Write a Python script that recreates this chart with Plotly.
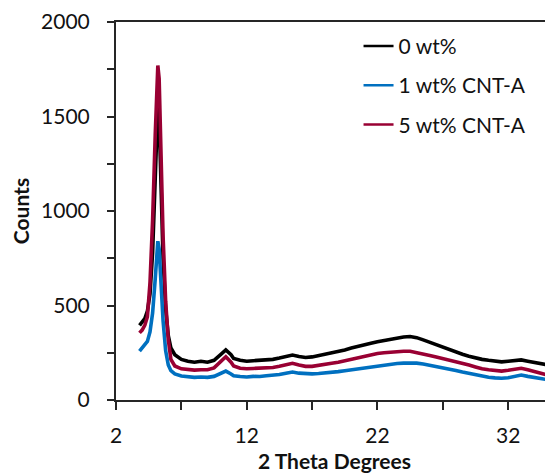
import plotly.graph_objects as go

two_theta = [3.8, 4.0, 4.2, 4.4, 4.6, 4.8, 5.0, 5.1, 5.2, 5.3, 5.4, 5.6, 5.8, 6.0, 6.2, 6.5,
             7.0, 7.5, 8.0, 8.5, 9.0, 9.5, 10.0, 10.4, 10.8, 11.0, 11.5, 12.0, 12.5, 13.0,
             13.5, 14.0, 14.5, 15.0, 15.5, 16.0, 16.5, 17.0, 17.5, 18.0, 18.5, 19.0, 19.5,
             20.0, 20.5, 21.0, 21.5, 22.0, 22.5, 23.0, 23.5, 24.0, 24.5, 25.0, 25.5, 26.0,
             26.5, 27.0, 27.5, 28.0, 28.5, 29.0, 29.5, 30.0, 30.5, 31.0, 31.5, 32.0, 32.5,
             33.0, 33.5, 34.0, 34.5, 35.0, 35.5]

counts_0wt = [395, 410, 430, 470, 560, 780, 1150, 1400, 1560, 1500, 1200, 750, 480, 340, 275, 240,
              215, 205, 200, 205, 200, 210, 240, 265, 240, 220, 210, 205, 208, 210,
              212, 215, 222, 232, 238, 230, 225, 228, 235, 240, 248, 255, 265,
              275, 285, 292, 300, 308, 315, 322, 328, 333, 336, 330, 318, 305,
              290, 278, 268, 255, 242, 232, 222, 215, 210, 205, 202, 205, 210,
              212, 205, 198, 192, 186, 182]

counts_1wt = [258, 275, 290, 310, 360, 460, 640, 760, 840, 800, 650, 420, 260, 185, 155, 138,
              127, 122, 120, 122, 120, 125, 140, 153, 138, 128, 124, 122, 125, 124,
              128, 130, 135, 142, 148, 142, 138, 138, 140, 142, 145, 150, 155,
              160, 166, 172, 176, 180, 185, 190, 193, 195, 196, 195, 190, 184,
              177, 170, 162, 156, 148, 140, 132, 124, 120, 117, 115, 118, 126,
              132, 125, 118, 112, 108, 105]

counts_5wt = [355, 370, 395, 440, 620, 950, 1400, 1650, 1770, 1700, 1380, 870, 520, 320, 215, 180,
              165, 160, 158, 160, 160, 170, 205, 229, 200, 180, 168, 165, 167, 168,
              170, 172, 178, 188, 194, 185, 178, 178, 182, 188, 194, 200, 208,
              218, 226, 234, 240, 246, 250, 254, 257, 258, 258, 252, 244, 236,
              228, 220, 212, 204, 195, 185, 175, 165, 160, 156, 153, 157, 164,
              168, 160, 150, 140, 132, 127]

series_names = ["0 wt%", "1 wt% CNT-A", "5 wt% CNT-A"]
series_colors = ["#000000", "#0070C0", "#990033"]
series_values = [counts_0wt, counts_1wt, counts_5wt]

FONT = "Lato"
AXIS_COLOR = "#262626"

fig = go.Figure()

for name, color, vals in zip(series_names, series_colors, series_values):
    fig.add_trace(go.Scatter(x=two_theta, y=vals, mode="lines", name=name,
                             line=dict(color=color, width=3.6), showlegend=False,
                             legendgroup=name))
for name, color in zip(series_names, series_colors):
    fig.add_trace(go.Scatter(x=[None], y=[None], mode="lines", name=name,
                             line=dict(color=color, width=2.6), legendgroup=name,
                             showlegend=True))

# page body has an 8px margin; the figure is sized to end at the window edge
fig.update_layout(
    width=545, height=465,
    margin=dict(l=108, r=0, t=14, b=73, autoexpand=False),
    paper_bgcolor="white", plot_bgcolor="white",
    font=dict(family=FONT, size=21, color="#111111"),
    showlegend=True,
    legend=dict(x=0.555, y=0.99, xanchor="left", yanchor="top",
                bgcolor="rgba(0,0,0,0)", font=dict(size=21, family=FONT),
                tracegroupgap=9, itemwidth=30),
    xaxis=dict(range=[2, 35.43], tick0=2, dtick=10, showgrid=False, zeroline=False,
               automargin=False,
               showline=True, linecolor=AXIS_COLOR, linewidth=2, mirror=True,
               ticks="outside", ticklen=8, tickwidth=1.5, tickcolor=AXIS_COLOR,
               ticklabelstandoff=8,
               minor=dict(ticks="outside", dtick=5, tick0=2, ticklen=8, tickwidth=1.5,
                          tickcolor=AXIS_COLOR, showgrid=False),
               title=dict(text="<b>2 Theta Degrees</b>",
                          font=dict(size=21, family=FONT))),
    yaxis=dict(range=[0, 2000], tick0=0, dtick=500, showgrid=False, zeroline=False,
               automargin=False,
               showline=True, linecolor=AXIS_COLOR, linewidth=2,
               ticks="outside", ticklen=7, tickwidth=1.5, tickcolor=AXIS_COLOR,
               ticklabelstandoff=13,
               minor=dict(ticks="outside", dtick=250, ticklen=7, tickwidth=1.5,
                          tickcolor=AXIS_COLOR, showgrid=False),
               title=dict(text="<b>Counts</b>",
                          font=dict(size=21, family=FONT))),
)

fig.write_html("out.html")
